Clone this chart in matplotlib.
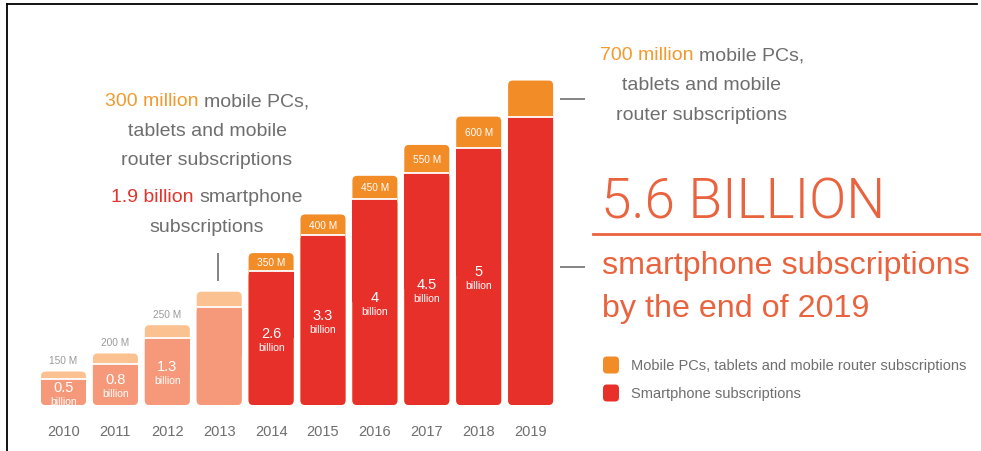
import numpy as np
import matplotlib
matplotlib.use('Agg')
import matplotlib.pyplot as plt
from matplotlib.patches import FancyBboxPatch
from matplotlib.lines import Line2D

plt.rcParams['font.family'] = ['Liberation Sans', 'DejaVu Sans']

# Subscriptions per year, in billions
years = ['2010', '2011', '2012', '2013', '2014', '2015', '2016', '2017', '2018', '2019']
smartphone = [0.5, 0.8, 1.3, 1.9, 2.6, 3.3, 4, 4.5, 5, 5.6]
mobile_pc = [0.15, 0.2, 0.25, 0.3, 0.35, 0.4, 0.45, 0.55, 0.6, 0.7]
smart_labels = ['0.5', '0.8', '1.3', '', '2.6', '3.3', '4', '4.5', '5', '']
pc_labels = ['150 M', '200 M', '250 M', '', '350 M', '400 M', '450 M', '550 M', '600 M', '']

RED = '#e8302a'
ORANGE = '#f28c26'
SALMON = '#f6997a'
PEACH = '#fbc191'
GREY = '#6e6e6e'
TITLE = '#e9633f'

W, H = 981, 452
fig = plt.figure(figsize=(W / 100, H / 100), dpi=100, facecolor='white')


def fx(x):
    return x / W


def fy(y):
    return 1 - y / H


# axes: one bar unit is ~52 px wide, one billion ~51.5 px tall
ax = fig.add_axes([0, 46 / H, 1, 1 - 46 / H])
ax.set_xlim(-63.5 / 51.9, (W - 63.5) / 51.9)
ax.set_ylim(0, 406 / 51.5)
for s in ax.spines.values():
    s.set_visible(False)
ax.set_yticks([])

x = np.arange(len(years))
width = 0.867
total = np.array(smartphone) + np.array(mobile_pc)
early = x < 4
top_colors = [PEACH if e else ORANGE for e in early]
low_colors = [SALMON if e else RED for e in early]


def round_bars(bars, colors, keep_top=False):
    for rect, c in zip(bars, colors):
        x0, y0 = rect.get_x(), rect.get_y()
        w, h = rect.get_width(), rect.get_height()
        ax.add_patch(FancyBboxPatch((x0, y0), w, h, facecolor=c, edgecolor='none',
                                    boxstyle='round,pad=0,rounding_size=0.09',
                                    mutation_aspect=1.0, zorder=rect.get_zorder()))
        if keep_top:
            # square off the upper corners where the two segments meet
            rect.set_y(y0 + h / 2)
            rect.set_height(h / 2)
        else:
            rect.set_visible(False)


tops = ax.bar(x, total, width, color=top_colors, zorder=2)
round_bars(tops, top_colors)
lows = ax.bar(x, smartphone, width, color=low_colors, zorder=3)
round_bars(lows, low_colors, keep_top=True)
ax.hlines(smartphone, x - width / 2, x + width / 2, color='white', lw=1.3, zorder=4)

ax.set_xticks(x, years)
ax.tick_params(axis='x', length=0, pad=14, labelsize=10.5, labelcolor=GREY)

for i in x:
    if smart_labels[i]:
        yv = smartphone[i] / 2 + 0.1
        ax.text(i, yv, smart_labels[i], ha='center', va='center', color='white',
                fontsize=10.5, zorder=5)
        ax.text(i, yv - 0.27, 'billion', ha='center', va='center', color='white',
                fontsize=7.5, zorder=5)
    if pc_labels[i]:
        if early[i]:
            ax.text(i, total[i] + 0.12, pc_labels[i], ha='center', va='bottom',
                    color='#9a9a9a', fontsize=7.3)
        else:
            ax.text(i, smartphone[i] + mobile_pc[i] / 2, pc_labels[i], ha='center',
                    va='center', color='white', fontsize=7.3, zorder=5)

# pointer lines
ax.vlines(3 - 0.02, total[3] + 0.2, total[3] + 0.75, color=GREY, lw=1.2)
ax.hlines(smartphone[9] + mobile_pc[9] / 2, 9.566, 10.05, color=GREY, lw=1.2)
ax.hlines(smartphone[9] * 0.478, 9.566, 10.05, color=GREY, lw=1.2)

renderer = fig.canvas.get_renderer()


def two_tone(first, c1, rest, c2, cx, cy, size):
    full = fig.text(0, 0, first + ' ' + rest, fontsize=size)
    fw = full.get_window_extent(renderer).width
    full.remove()
    fig.text(fx(cx - fw / 2), fy(cy), first, fontsize=size, color=c1, va='center', ha='left')
    fig.text(fx(cx + fw / 2), fy(cy), rest, fontsize=size, color=c2, va='center', ha='right')


def line(s, cx, cy, size=14, color=GREY):
    fig.text(fx(cx), fy(cy), s, fontsize=size, color=color, ha='center', va='center')


# annotation for 2013
two_tone('300 million', '#f39a2f', 'mobile PCs,', GREY, 207, 102, 14)
line('tablets and mobile', 207, 132)
line('router subscriptions', 207, 161)
two_tone('1.9 billion', '#e2342b', 'smartphone', GREY, 207, 198, 14)
line('subscriptions', 207, 228)

# annotation for 2019
two_tone('700 million', '#f39a2f', 'mobile PCs,', GREY, 702, 56, 14)
line('tablets and mobile', 702, 86)
line('router subscriptions', 702, 115)

fig.text(fx(601), fy(203), '5.6 BILLION', fontsize=39.5, color=TITLE, ha='left',
         va='center', family='Roboto', fontweight=300)
fig.add_artist(Line2D([fx(593), fx(W)], [fy(235), fy(235)], color=TITLE, lw=2))
fig.text(fx(602), fy(266), 'smartphone subscriptions', fontsize=23.2, color=TITLE,
         ha='left', va='center')
fig.text(fx(602), fy(309), 'by the end of 2019', fontsize=23.2, color=TITLE,
         ha='left', va='center')

# legend
legend_items = [('Mobile PCs, tablets and mobile router subscriptions', ORANGE, 366),
                ('Smartphone subscriptions', RED, 394)]
for label, c, yc in legend_items:
    fig.patches.append(FancyBboxPatch((fx(603), fy(yc + 8.5)), 16 / W, 17 / H,
                                      boxstyle='round,pad=0,rounding_size=0.004',
                                      mutation_aspect=W / H, facecolor=c,
                                      edgecolor='none', transform=fig.transFigure,
                                      figure=fig))
    fig.text(fx(631), fy(yc), label, fontsize=10.5, color=GREY, ha='left', va='center')

# frame
fig.add_artist(Line2D([fx(7), fx(977)], [fy(5), fy(5)], color='black', lw=1.3))
fig.add_artist(Line2D([fx(7), fx(7)], [fy(5), fy(H)], color='black', lw=1.3))

fig.savefig('out.png', dpi=100, facecolor='white')
